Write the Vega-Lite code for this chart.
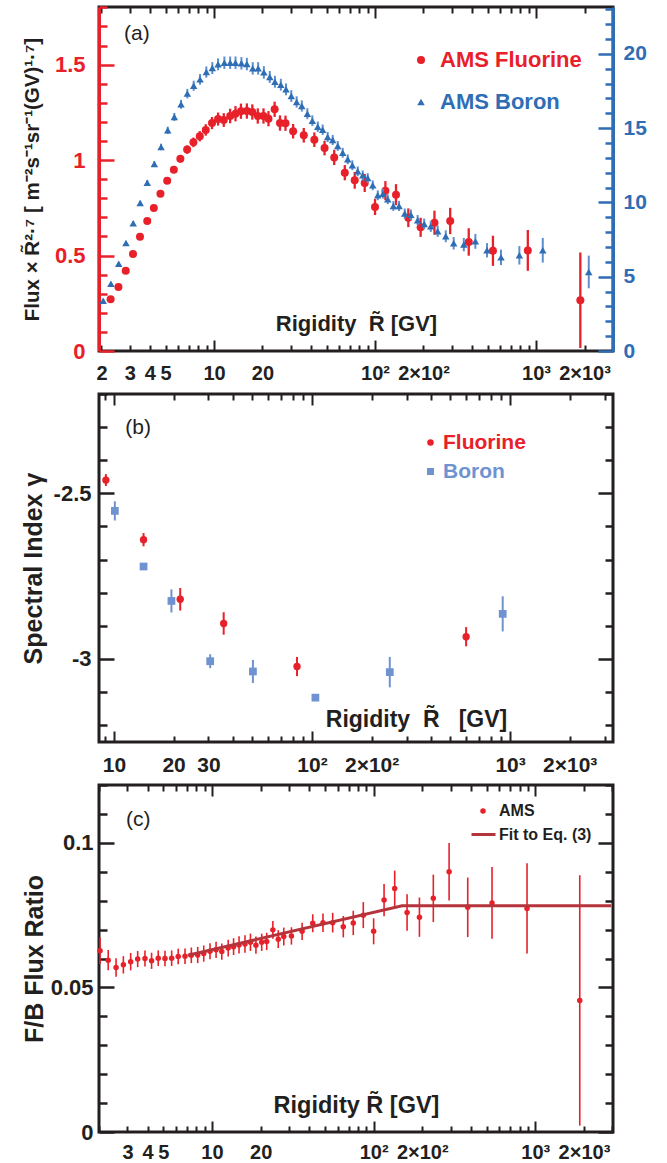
{
  "$schema": "https://vega.github.io/schema/vega-lite/v6.json",
  "padding": {"left": 19, "top": 4, "right": 5, "bottom": 0},
  "spacing": 43,
  "bounds": "flush",
  "config": {
    "font": "Liberation Sans",
    "view": {"stroke": "#231f20", "strokeWidth": 3},
    "axis": {"labelFont": "Liberation Sans", "labelFontWeight": "bold", "titleFont": "Liberation Sans", "titleFontWeight": "bold", "grid": false, "domain": false, "labelColor": "#231f20", "titleColor": "#231f20", "labelFlush": false, "labelOverlap": false},
    "legend": {"labelFont": "Liberation Sans", "labelFontWeight": "bold", "padding": 0, "labelLimit": 400}
  },
  "datasets": {
    "fluorineFlux": [
      {"series":"AMS Fluorine","R":2.28,"v":0.271,"lo":0.263,"hi":0.279},
      {"series":"AMS Fluorine","R":2.55,"v":0.335,"lo":0.327,"hi":0.343},
      {"series":"AMS Fluorine","R":2.83,"v":0.421,"lo":0.413,"hi":0.429},
      {"series":"AMS Fluorine","R":3.14,"v":0.508,"lo":0.499,"hi":0.517},
      {"series":"AMS Fluorine","R":3.47,"v":0.599,"lo":0.589,"hi":0.609},
      {"series":"AMS Fluorine","R":3.85,"v":0.681,"lo":0.670,"hi":0.692},
      {"series":"AMS Fluorine","R":4.23,"v":0.749,"lo":0.737,"hi":0.761},
      {"series":"AMS Fluorine","R":4.65,"v":0.824,"lo":0.811,"hi":0.837},
      {"series":"AMS Fluorine","R":5.12,"v":0.892,"lo":0.877,"hi":0.907},
      {"series":"AMS Fluorine","R":5.63,"v":0.950,"lo":0.933,"hi":0.967},
      {"series":"AMS Fluorine","R":6.18,"v":1.007,"lo":0.987,"hi":1.027},
      {"series":"AMS Fluorine","R":6.81,"v":1.055,"lo":1.033,"hi":1.077},
      {"series":"AMS Fluorine","R":7.45,"v":1.093,"lo":1.068,"hi":1.118},
      {"series":"AMS Fluorine","R":8.16,"v":1.125,"lo":1.098,"hi":1.152},
      {"series":"AMS Fluorine","R":8.89,"v":1.158,"lo":1.128,"hi":1.188},
      {"series":"AMS Fluorine","R":9.72,"v":1.194,"lo":1.162,"hi":1.226},
      {"series":"AMS Fluorine","R":10.6,"v":1.215,"lo":1.181,"hi":1.249},
      {"series":"AMS Fluorine","R":11.5,"v":1.210,"lo":1.174,"hi":1.246},
      {"series":"AMS Fluorine","R":12.6,"v":1.231,"lo":1.193,"hi":1.269},
      {"series":"AMS Fluorine","R":13.6,"v":1.243,"lo":1.203,"hi":1.283},
      {"series":"AMS Fluorine","R":14.7,"v":1.256,"lo":1.216,"hi":1.296},
      {"series":"AMS Fluorine","R":16.0,"v":1.257,"lo":1.217,"hi":1.297},
      {"series":"AMS Fluorine","R":17.3,"v":1.252,"lo":1.212,"hi":1.292},
      {"series":"AMS Fluorine","R":18.7,"v":1.231,"lo":1.191,"hi":1.271},
      {"series":"AMS Fluorine","R":20.3,"v":1.231,"lo":1.191,"hi":1.271},
      {"series":"AMS Fluorine","R":21.8,"v":1.217,"lo":1.177,"hi":1.257},
      {"series":"AMS Fluorine","R":23.8,"v":1.266,"lo":1.226,"hi":1.306},
      {"series":"AMS Fluorine","R":25.7,"v":1.194,"lo":1.154,"hi":1.234},
      {"series":"AMS Fluorine","R":27.8,"v":1.193,"lo":1.153,"hi":1.233},
      {"series":"AMS Fluorine","R":31.0,"v":1.151,"lo":1.113,"hi":1.189},
      {"series":"AMS Fluorine","R":36.1,"v":1.130,"lo":1.092,"hi":1.168},
      {"series":"AMS Fluorine","R":42.0,"v":1.107,"lo":1.069,"hi":1.145},
      {"series":"AMS Fluorine","R":48.6,"v":1.063,"lo":1.025,"hi":1.101},
      {"series":"AMS Fluorine","R":55.8,"v":1.014,"lo":0.974,"hi":1.054},
      {"series":"AMS Fluorine","R":64.9,"v":0.934,"lo":0.894,"hi":0.974},
      {"series":"AMS Fluorine","R":74.8,"v":0.894,"lo":0.850,"hi":0.938},
      {"series":"AMS Fluorine","R":86.3,"v":0.880,"lo":0.833,"hi":0.927},
      {"series":"AMS Fluorine","R":100,"v":0.754,"lo":0.712,"hi":0.796},
      {"series":"AMS Fluorine","R":116,"v":0.840,"lo":0.790,"hi":0.890},
      {"series":"AMS Fluorine","R":135,"v":0.819,"lo":0.764,"hi":0.874},
      {"series":"AMS Fluorine","R":161,"v":0.698,"lo":0.649,"hi":0.747},
      {"series":"AMS Fluorine","R":192,"v":0.648,"lo":0.598,"hi":0.698},
      {"series":"AMS Fluorine","R":234,"v":0.672,"lo":0.609,"hi":0.735},
      {"series":"AMS Fluorine","R":293,"v":0.681,"lo":0.612,"hi":0.750},
      {"series":"AMS Fluorine","R":382,"v":0.571,"lo":0.499,"hi":0.643},
      {"series":"AMS Fluorine","R":540,"v":0.525,"lo":0.446,"hi":0.604},
      {"series":"AMS Fluorine","R":889,"v":0.527,"lo":0.420,"hi":0.634},
      {"series":"AMS Fluorine","R":1884,"v":0.266,"lo":0.016,"hi":0.516}
    ],
    "boronFlux": [
      {"series":"AMS Boron","R":2.05,"v":3.38,"lo":3.28,"hi":3.48},
      {"series":"AMS Boron","R":2.29,"v":4.53,"lo":4.43,"hi":4.63},
      {"series":"AMS Boron","R":2.56,"v":5.87,"lo":5.75,"hi":5.99},
      {"series":"AMS Boron","R":2.84,"v":7.27,"lo":7.15,"hi":7.39},
      {"series":"AMS Boron","R":3.15,"v":8.59,"lo":8.45,"hi":8.73},
      {"series":"AMS Boron","R":3.48,"v":9.96,"lo":9.81,"hi":10.11},
      {"series":"AMS Boron","R":3.85,"v":11.33,"lo":11.16,"hi":11.50},
      {"series":"AMS Boron","R":4.26,"v":12.58,"lo":12.38,"hi":12.78},
      {"series":"AMS Boron","R":4.69,"v":13.73,"lo":13.51,"hi":13.95},
      {"series":"AMS Boron","R":5.16,"v":14.85,"lo":14.60,"hi":15.10},
      {"series":"AMS Boron","R":5.67,"v":15.75,"lo":15.48,"hi":16.02},
      {"series":"AMS Boron","R":6.24,"v":16.60,"lo":16.30,"hi":16.90},
      {"series":"AMS Boron","R":6.83,"v":17.32,"lo":17.00,"hi":17.64},
      {"series":"AMS Boron","R":7.48,"v":17.85,"lo":17.51,"hi":18.19},
      {"series":"AMS Boron","R":8.19,"v":18.28,"lo":17.92,"hi":18.64},
      {"series":"AMS Boron","R":8.96,"v":18.77,"lo":18.39,"hi":19.15},
      {"series":"AMS Boron","R":9.76,"v":19.04,"lo":18.64,"hi":19.44},
      {"series":"AMS Boron","R":10.6,"v":19.29,"lo":18.89,"hi":19.69},
      {"series":"AMS Boron","R":11.6,"v":19.40,"lo":18.98,"hi":19.82},
      {"series":"AMS Boron","R":12.6,"v":19.40,"lo":18.98,"hi":19.82},
      {"series":"AMS Boron","R":13.6,"v":19.40,"lo":18.98,"hi":19.82},
      {"series":"AMS Boron","R":14.8,"v":19.36,"lo":18.94,"hi":19.78},
      {"series":"AMS Boron","R":16.0,"v":19.31,"lo":18.89,"hi":19.73},
      {"series":"AMS Boron","R":17.4,"v":19.02,"lo":18.60,"hi":19.44},
      {"series":"AMS Boron","R":18.8,"v":19.02,"lo":18.60,"hi":19.44},
      {"series":"AMS Boron","R":20.4,"v":18.75,"lo":18.33,"hi":19.17},
      {"series":"AMS Boron","R":22.2,"v":18.44,"lo":18.04,"hi":18.84},
      {"series":"AMS Boron","R":23.9,"v":18.12,"lo":17.72,"hi":18.52},
      {"series":"AMS Boron","R":26.0,"v":17.92,"lo":17.52,"hi":18.32},
      {"series":"AMS Boron","R":28.0,"v":17.61,"lo":17.21,"hi":18.01},
      {"series":"AMS Boron","R":30.2,"v":17.16,"lo":16.76,"hi":17.56},
      {"series":"AMS Boron","R":32.6,"v":16.76,"lo":16.38,"hi":17.14},
      {"series":"AMS Boron","R":35.1,"v":16.49,"lo":16.11,"hi":16.87},
      {"series":"AMS Boron","R":38.0,"v":15.97,"lo":15.60,"hi":16.34},
      {"series":"AMS Boron","R":40.8,"v":15.50,"lo":15.14,"hi":15.86},
      {"series":"AMS Boron","R":44.1,"v":15.09,"lo":14.74,"hi":15.44},
      {"series":"AMS Boron","R":47.3,"v":14.89,"lo":14.54,"hi":15.24},
      {"series":"AMS Boron","R":50.8,"v":14.40,"lo":14.06,"hi":14.74},
      {"series":"AMS Boron","R":54.6,"v":14.20,"lo":13.86,"hi":14.54},
      {"series":"AMS Boron","R":58.7,"v":13.80,"lo":13.47,"hi":14.13},
      {"series":"AMS Boron","R":63.0,"v":13.34,"lo":13.01,"hi":13.67},
      {"series":"AMS Boron","R":67.7,"v":12.90,"lo":12.57,"hi":13.23},
      {"series":"AMS Boron","R":72.3,"v":12.50,"lo":12.17,"hi":12.83},
      {"series":"AMS Boron","R":78.1,"v":12.09,"lo":11.76,"hi":12.42},
      {"series":"AMS Boron","R":83.9,"v":11.82,"lo":11.49,"hi":12.15},
      {"series":"AMS Boron","R":90.1,"v":11.64,"lo":11.31,"hi":11.97},
      {"series":"AMS Boron","R":96.8,"v":11.15,"lo":10.82,"hi":11.48},
      {"series":"AMS Boron","R":104,"v":10.48,"lo":10.15,"hi":10.81},
      {"series":"AMS Boron","R":112,"v":10.59,"lo":10.26,"hi":10.92},
      {"series":"AMS Boron","R":120,"v":10.21,"lo":9.88,"hi":10.54},
      {"series":"AMS Boron","R":130,"v":9.76,"lo":9.43,"hi":10.09},
      {"series":"AMS Boron","R":141,"v":9.76,"lo":9.42,"hi":10.10},
      {"series":"AMS Boron","R":153,"v":9.25,"lo":8.91,"hi":9.59},
      {"series":"AMS Boron","R":167,"v":9.17,"lo":8.82,"hi":9.52},
      {"series":"AMS Boron","R":184,"v":8.80,"lo":8.45,"hi":9.15},
      {"series":"AMS Boron","R":202,"v":8.55,"lo":8.19,"hi":8.91},
      {"series":"AMS Boron","R":222,"v":8.39,"lo":8.02,"hi":8.76},
      {"series":"AMS Boron","R":245,"v":8.06,"lo":7.68,"hi":8.44},
      {"series":"AMS Boron","R":275,"v":7.72,"lo":7.32,"hi":8.12},
      {"series":"AMS Boron","R":308,"v":7.25,"lo":6.83,"hi":7.67},
      {"series":"AMS Boron","R":356,"v":7.16,"lo":6.71,"hi":7.61},
      {"series":"AMS Boron","R":420,"v":7.38,"lo":6.88,"hi":7.88},
      {"series":"AMS Boron","R":496,"v":6.78,"lo":6.30,"hi":7.26},
      {"series":"AMS Boron","R":606,"v":6.30,"lo":5.78,"hi":6.82},
      {"series":"AMS Boron","R":788,"v":6.44,"lo":5.82,"hi":7.06},
      {"series":"AMS Boron","R":1101,"v":6.78,"lo":5.95,"hi":7.61},
      {"series":"AMS Boron","R":2125,"v":5.32,"lo":4.22,"hi":6.42}
    ],
    "indexF": [
      {"series":"Fluorine","R":9.1,"v":-2.46,"lo":-2.478,"hi":-2.442},
      {"series":"Fluorine","R":14.1,"v":-2.64,"lo":-2.66,"hi":-2.62},
      {"series":"Fluorine","R":21.6,"v":-2.82,"lo":-2.854,"hi":-2.786},
      {"series":"Fluorine","R":35.8,"v":-2.893,"lo":-2.927,"hi":-2.859},
      {"series":"Fluorine","R":84,"v":-3.023,"lo":-3.052,"hi":-2.994},
      {"series":"Fluorine","R":600,"v":-2.933,"lo":-2.962,"hi":-2.904}
    ],
    "indexB": [
      {"series":"Boron","R":10.1,"v":-2.553,"lo":-2.582,"hi":-2.524},
      {"series":"Boron","R":14.1,"v":-2.721,"lo":-2.729,"hi":-2.713},
      {"series":"Boron","R":19.5,"v":-2.825,"lo":-2.86,"hi":-2.79},
      {"series":"Boron","R":30.6,"v":-3.007,"lo":-3.028,"hi":-2.986},
      {"series":"Boron","R":50.3,"v":-3.038,"lo":-3.073,"hi":-3.003},
      {"series":"Boron","R":104,"v":-3.117,"lo":-3.125,"hi":-3.109},
      {"series":"Boron","R":247,"v":-3.04,"lo":-3.086,"hi":-2.994},
      {"series":"Boron","R":918,"v":-2.864,"lo":-2.917,"hi":-2.811}
    ],
    "ratio": [
      {"series":"AMS","R":2.03,"v":0.0627,"lo":0.0581,"hi":0.0673},
      {"series":"AMS","R":2.28,"v":0.0594,"lo":0.0559,"hi":0.0629},
      {"series":"AMS","R":2.55,"v":0.0569,"lo":0.0537,"hi":0.0601},
      {"series":"AMS","R":2.83,"v":0.0578,"lo":0.0548,"hi":0.0608},
      {"series":"AMS","R":3.14,"v":0.0589,"lo":0.0559,"hi":0.0619},
      {"series":"AMS","R":3.47,"v":0.0598,"lo":0.0570,"hi":0.0626},
      {"series":"AMS","R":3.85,"v":0.0600,"lo":0.0572,"hi":0.0628},
      {"series":"AMS","R":4.23,"v":0.0592,"lo":0.0564,"hi":0.0620},
      {"series":"AMS","R":4.65,"v":0.0601,"lo":0.0574,"hi":0.0628},
      {"series":"AMS","R":5.12,"v":0.0600,"lo":0.0573,"hi":0.0627},
      {"series":"AMS","R":5.63,"v":0.0601,"lo":0.0574,"hi":0.0628},
      {"series":"AMS","R":6.18,"v":0.0607,"lo":0.0580,"hi":0.0634},
      {"series":"AMS","R":6.81,"v":0.0608,"lo":0.0581,"hi":0.0635},
      {"series":"AMS","R":7.45,"v":0.0611,"lo":0.0584,"hi":0.0638},
      {"series":"AMS","R":8.16,"v":0.0612,"lo":0.0584,"hi":0.0640},
      {"series":"AMS","R":8.89,"v":0.0617,"lo":0.0589,"hi":0.0645},
      {"series":"AMS","R":9.72,"v":0.0625,"lo":0.0597,"hi":0.0653},
      {"series":"AMS","R":10.6,"v":0.0630,"lo":0.0602,"hi":0.0658},
      {"series":"AMS","R":11.5,"v":0.0624,"lo":0.0596,"hi":0.0652},
      {"series":"AMS","R":12.6,"v":0.0636,"lo":0.0607,"hi":0.0665},
      {"series":"AMS","R":13.6,"v":0.0641,"lo":0.0612,"hi":0.0670},
      {"series":"AMS","R":14.7,"v":0.0647,"lo":0.0617,"hi":0.0677},
      {"series":"AMS","R":16.0,"v":0.0650,"lo":0.0620,"hi":0.0680},
      {"series":"AMS","R":17.3,"v":0.0656,"lo":0.0626,"hi":0.0686},
      {"series":"AMS","R":18.7,"v":0.0646,"lo":0.0616,"hi":0.0676},
      {"series":"AMS","R":20.3,"v":0.0656,"lo":0.0626,"hi":0.0686},
      {"series":"AMS","R":21.8,"v":0.0659,"lo":0.0629,"hi":0.0689},
      {"series":"AMS","R":23.8,"v":0.0699,"lo":0.0668,"hi":0.0730},
      {"series":"AMS","R":25.7,"v":0.0667,"lo":0.0636,"hi":0.0698},
      {"series":"AMS","R":27.8,"v":0.0676,"lo":0.0645,"hi":0.0707},
      {"series":"AMS","R":31.0,"v":0.0678,"lo":0.0648,"hi":0.0708},
      {"series":"AMS","R":36.1,"v":0.0694,"lo":0.0664,"hi":0.0724},
      {"series":"AMS","R":42.0,"v":0.0722,"lo":0.0691,"hi":0.0753},
      {"series":"AMS","R":48.6,"v":0.0724,"lo":0.0692,"hi":0.0756},
      {"series":"AMS","R":55.8,"v":0.0724,"lo":0.0690,"hi":0.0758},
      {"series":"AMS","R":64.9,"v":0.0710,"lo":0.0673,"hi":0.0747},
      {"series":"AMS","R":74.8,"v":0.0723,"lo":0.0681,"hi":0.0765},
      {"series":"AMS","R":86.3,"v":0.0750,"lo":0.0705,"hi":0.0795},
      {"series":"AMS","R":100,"v":0.0694,"lo":0.0649,"hi":0.0739},
      {"series":"AMS","R":116,"v":0.0802,"lo":0.0746,"hi":0.0858},
      {"series":"AMS","R":135,"v":0.0842,"lo":0.0780,"hi":0.0904},
      {"series":"AMS","R":161,"v":0.0759,"lo":0.0696,"hi":0.0822},
      {"series":"AMS","R":192,"v":0.0743,"lo":0.0675,"hi":0.0811},
      {"series":"AMS","R":234,"v":0.0808,"lo":0.0726,"hi":0.0890},
      {"series":"AMS","R":293,"v":0.0900,"lo":0.0801,"hi":0.0999},
      {"series":"AMS","R":382,"v":0.0777,"lo":0.0674,"hi":0.0880},
      {"series":"AMS","R":540,"v":0.0792,"lo":0.0668,"hi":0.0916},
      {"series":"AMS","R":889,"v":0.0773,"lo":0.0617,"hi":0.0929},
      {"series":"AMS","R":1884,"v":0.0455,"lo":0.0022,"hi":0.0888}
    ],
    "fit": [
      {"series":"Fit to Eq. (3)","R":7.1,"v":0.0611},
      {"series":"Fit to Eq. (3)","R":150,"v":0.0782},
      {"series":"Fit to Eq. (3)","R":2950,"v":0.0782}
    ]
  },
  "vconcat": [
    {
      "width": 514,
      "height": 344,
      "resolve": {"scale": {"y": "independent", "color": "independent", "shape": "independent"}, "axis": {"x": "independent", "y": "independent"}},
      "layer": [
        {
          "data": {"name": "fluorineFlux"},
          "mark": {"type": "rule", "color": "#e8202a", "strokeWidth": 2.3},
          "encoding": {
            "x": {"field": "R", "type": "quantitative", "scale": {"type": "log", "domain": [1.931, 3006], "nice": false},
              "axis": {"orient": "bottom", "values": [2,3,4,5,6,7,8,9,10,20,30,40,50,60,70,80,90,100,200,300,400,500,600,700,800,900,1000,2000,3000], "labels": false, "title": null, "tickColor": "#231f20", "tickWidth": 2, "tickSize": {"condition": {"test": "datum.value==10||datum.value==100||datum.value==1000", "value": -11}, "value": -6}}},
            "y": {"field": "lo", "type": "quantitative", "scale": {"domain": [0, 1.802], "nice": false, "zero": false},
              "axis": {"orient": "left", "values": [0,0.1,0.2,0.3,0.4,0.5,0.6,0.7,0.8,0.9,1,1.1,1.2,1.3,1.4,1.5,1.6,1.7,1.8], "labels": false, "title": null, "tickColor": "#e8202a", "tickWidth": 2.5, "domain": true, "domainColor": "#e8202a", "domainWidth": 3, "tickSize": {"condition": {"test": "abs(datum.value*2-round(datum.value*2))<0.001", "value": -15}, "value": -8}}},
            "y2": {"field": "hi"}
          }
        },
        {
          "data": {"name": "fluorineFlux"},
          "mark": {"type": "point", "filled": true, "shape": "circle", "size": 64, "opacity": 1},
          "encoding": {
            "x": {"field": "R", "type": "quantitative", "scale": {"type": "log", "domain": [1.931, 3006], "nice": false},
              "axis": {"orient": "bottom", "values": [2,3,4,5,10,20,100,200,1000,2000], "ticks": false, "labelFontSize": 20, "labelPadding": 12, "labelExpr": "datum.value==100?'10²':datum.value==200?'2×10²':datum.value==1000?'10³':datum.value==2000?'2×10³':format(datum.value,'d')", "title": "Rigidity\u00a0\u00a0R̃ [GV]", "titleX": 257, "titleY": -28, "titleAngle": 0, "titleAlign": "center", "titleBaseline": "middle", "titleFontSize": 22}},
            "y": {"field": "v", "type": "quantitative", "scale": {"domain": [0, 1.802], "nice": false, "zero": false},
              "axis": {"orient": "left", "values": [0,0.5,1,1.5], "ticks": false, "labelExpr": "format(datum.value,'~g')", "labelFontSize": 22, "labelColor": "#e8202a", "labelPadding": 14, "title": "Flux × R̃²·⁷ [ m⁻²s⁻¹sr⁻¹(GV)¹·⁷]", "titleX": -67, "titleBaseline": "middle", "titleFontSize": 20.5}},
            "color": {"field": "series", "type": "nominal", "scale": {"domain": ["AMS Fluorine"], "range": ["#e8202a"]},
              "legend": {"orient": "none", "legendX": 311, "legendY": 42, "title": null, "labelColor": "#e8202a", "labelFontSize": 22, "symbolSize": 64, "labelOffset": 8}}
          }
        },
        {
          "data": {"name": "boronFlux"},
          "mark": {"type": "rule", "color": "#5b8fd0", "strokeWidth": 2},
          "encoding": {
            "x": {"field": "R", "type": "quantitative", "scale": {"type": "log", "domain": [1.931, 3006], "nice": false},
              "axis": {"orient": "top", "values": [2,3,4,5,6,7,8,9,10,20,30,40,50,60,70,80,90,100,200,300,400,500,600,700,800,900,1000,2000,3000], "labels": false, "title": null, "tickColor": "#231f20", "tickWidth": 2, "tickSize": {"condition": {"test": "datum.value==10||datum.value==100||datum.value==1000", "value": -11}, "value": -6}}},
            "y": {"field": "lo", "type": "quantitative", "scale": {"domain": [0, 23.15], "nice": false, "zero": false},
              "axis": {"orient": "right", "values": [0,1,2,3,4,5,6,7,8,9,10,11,12,13,14,15,16,17,18,19,20,21,22,23], "labels": false, "title": null, "tickColor": "#2f6db5", "tickWidth": 2.5, "domain": true, "domainColor": "#2f6db5", "domainWidth": 3, "tickSize": {"condition": {"test": "datum.value%5==0", "value": -15}, "value": -8}}},
            "y2": {"field": "hi"}
          }
        },
        {
          "data": {"name": "boronFlux"},
          "mark": {"type": "point", "filled": true, "size": 56, "opacity": 1},
          "encoding": {
            "x": {"field": "R", "type": "quantitative", "scale": {"type": "log", "domain": [1.931, 3006], "nice": false}, "axis": null},
            "y": {"field": "v", "type": "quantitative", "scale": {"domain": [0, 23.15], "nice": false, "zero": false},
              "axis": {"orient": "right", "values": [0,5,10,15,20], "ticks": false, "format": "d", "labelFontSize": 21, "labelColor": "#2f6db5", "labelPadding": 10, "title": null}},
            "color": {"field": "series", "type": "nominal", "scale": {"domain": ["AMS Boron"], "range": ["#2f6db5"]},
              "legend": {"orient": "none", "legendX": 311, "legendY": 84, "title": null, "labelColor": "#2f6db5", "labelFontSize": 22, "symbolSize": 56, "labelOffset": 8}},
            "shape": {"field": "series", "type": "nominal", "scale": {"domain": ["AMS Boron"], "range": ["triangle-up"]},
              "legend": {"orient": "none", "legendX": 311, "legendY": 84, "title": null, "labelColor": "#2f6db5", "labelFontSize": 22, "symbolSize": 56, "labelOffset": 8}}
          }
        },
        {
          "data": {"values": [{}]},
          "mark": {"type": "text", "text": "(a)", "align": "left", "baseline": "middle", "fontSize": 21, "color": "#231f20"},
          "encoding": {
            "x": {"datum": 2.76, "type": "quantitative", "scale": {"type": "log", "domain": [1.931, 3006], "nice": false}, "axis": null},
            "y": {"datum": 1.66, "type": "quantitative", "scale": {"domain": [0, 1.802], "nice": false, "zero": false}, "axis": null}
          }
        }
      ]
    },
    {
      "width": 514,
      "height": 348,
      "resolve": {"scale": {"color": "independent", "shape": "independent"}, "axis": {"x": "independent", "y": "independent"}},
      "layer": [
        {
          "data": {"name": "indexF"},
          "mark": {"type": "rule", "color": "#e8202a", "strokeWidth": 2},
          "encoding": {
            "x": {"field": "R", "type": "quantitative", "scale": {"type": "log", "domain": [8.4, 3310], "nice": false},
              "axis": {"orient": "bottom", "values": [9,10,20,30,40,50,60,70,80,90,100,200,300,400,500,600,700,800,900,1000,2000,3000], "labels": false, "title": null, "tickColor": "#231f20", "tickWidth": 2, "tickSize": {"condition": {"test": "datum.value==10||datum.value==100||datum.value==1000", "value": -11}, "value": -6}}},
            "y": {"field": "lo", "type": "quantitative", "scale": {"domain": [-3.251, -2.2], "nice": false, "zero": false},
              "axis": {"orient": "left", "values": [-3.2,-3.1,-3,-2.9,-2.8,-2.7,-2.6,-2.5,-2.4,-2.3,-2.2], "labels": false, "title": null, "tickColor": "#231f20", "tickWidth": 2.5, "tickSize": {"condition": {"test": "abs(datum.value*2-round(datum.value*2))<0.001", "value": -15}, "value": -8}}},
            "y2": {"field": "hi"}
          }
        },
        {
          "data": {"name": "indexF"},
          "mark": {"type": "point", "filled": true, "shape": "circle", "size": 54, "opacity": 1},
          "encoding": {
            "x": {"field": "R", "type": "quantitative", "scale": {"type": "log", "domain": [8.4, 3310], "nice": false},
              "axis": {"orient": "bottom", "values": [10,20,30,100,200,1000,2000], "ticks": false, "labelFontSize": 21, "labelPadding": 12, "labelExpr": "datum.value==100?'10²':datum.value==200?'2×10²':datum.value==1000?'10³':datum.value==2000?'2×10³':format(datum.value,'d')", "title": "Rigidity\u00a0\u00a0R̃\u00a0\u00a0\u00a0[GV]", "titleX": 317, "titleY": -23, "titleAngle": 0, "titleAlign": "center", "titleBaseline": "middle", "titleFontSize": 23}},
            "y": {"field": "v", "type": "quantitative", "scale": {"domain": [-3.251, -2.2], "nice": false, "zero": false},
              "axis": {"orient": "left", "values": [-3, -2.5], "ticks": false, "labelExpr": "datum.value==-3?'-3':'-2.5'", "labelFontSize": 22, "labelPadding": 8, "title": "Spectral Index γ", "titleX": -66, "titleBaseline": "middle", "titleFontSize": 25}},
            "color": {"field": "series", "type": "nominal", "scale": {"domain": ["Fluorine"], "range": ["#e8202a"]},
              "legend": {"orient": "none", "legendX": 321, "legendY": 38, "title": null, "labelColor": "#e8202a", "labelFontSize": 21, "symbolSize": 42, "labelOffset": 2}}
          }
        },
        {
          "data": {"name": "indexB"},
          "mark": {"type": "rule", "color": "#6f93d0", "strokeWidth": 2},
          "encoding": {
            "x": {"field": "R", "type": "quantitative", "scale": {"type": "log", "domain": [8.4, 3310], "nice": false},
              "axis": {"orient": "top", "values": [9,10,20,30,40,50,60,70,80,90,100,200,300,400,500,600,700,800,900,1000,2000,3000], "labels": false, "title": null, "tickColor": "#231f20", "tickWidth": 2, "tickSize": {"condition": {"test": "datum.value==10||datum.value==100||datum.value==1000", "value": -11}, "value": -6}}},
            "y": {"field": "lo", "type": "quantitative", "scale": {"domain": [-3.251, -2.2], "nice": false, "zero": false},
              "axis": {"orient": "right", "values": [-3.2,-3.1,-3,-2.9,-2.8,-2.7,-2.6,-2.5,-2.4,-2.3,-2.2], "labels": false, "title": null, "tickColor": "#231f20", "tickWidth": 2.5, "tickSize": {"condition": {"test": "abs(datum.value*2-round(datum.value*2))<0.001", "value": -15}, "value": -8}}},
            "y2": {"field": "hi"}
          }
        },
        {
          "data": {"name": "indexB"},
          "mark": {"type": "point", "filled": true, "size": 60, "opacity": 1},
          "encoding": {
            "x": {"field": "R", "type": "quantitative", "scale": {"type": "log", "domain": [8.4, 3310], "nice": false}, "axis": null},
            "y": {"field": "v", "type": "quantitative", "scale": {"domain": [-3.251, -2.2], "nice": false, "zero": false}, "axis": null},
            "color": {"field": "series", "type": "nominal", "scale": {"domain": ["Boron"], "range": ["#6f93d0"]},
              "legend": {"orient": "none", "legendX": 321, "legendY": 67, "title": null, "labelColor": "#6f93d0", "labelFontSize": 21, "symbolSize": 49, "labelOffset": 2}},
            "shape": {"field": "series", "type": "nominal", "scale": {"domain": ["Boron"], "range": ["square"]},
              "legend": {"orient": "none", "legendX": 321, "legendY": 67, "title": null, "labelColor": "#6f93d0", "labelFontSize": 21, "symbolSize": 49, "labelOffset": 2}}
          }
        },
        {
          "data": {"values": [{}]},
          "mark": {"type": "text", "text": "(b)", "align": "left", "baseline": "middle", "fontSize": 21, "color": "#231f20"},
          "encoding": {
            "x": {"datum": 11.4, "type": "quantitative", "scale": {"type": "log", "domain": [8.4, 3310], "nice": false}, "axis": null},
            "y": {"datum": -2.304, "type": "quantitative", "scale": {"domain": [-3.251, -2.2], "nice": false, "zero": false}, "axis": null}
          }
        }
      ]
    },
    {
      "width": 514,
      "height": 347,
      "resolve": {"scale": {"color": "independent"}, "axis": {"x": "independent", "y": "independent"}},
      "layer": [
        {
          "data": {"name": "ratio"},
          "mark": {"type": "rule", "color": "#e8202a", "strokeWidth": 1.6},
          "encoding": {
            "x": {"field": "R", "type": "quantitative", "scale": {"type": "log", "domain": [2.0, 3025], "nice": false},
              "axis": {"orient": "bottom", "values": [2,3,4,5,6,7,8,9,10,20,30,40,50,60,70,80,90,100,200,300,400,500,600,700,800,900,1000,2000,3000], "labels": false, "title": null, "tickColor": "#231f20", "tickWidth": 2, "tickSize": {"condition": {"test": "datum.value==10||datum.value==100||datum.value==1000", "value": -11}, "value": -6}}},
            "y": {"field": "lo", "type": "quantitative", "scale": {"domain": [0, 0.12], "nice": false, "zero": false},
              "axis": {"orient": "left", "values": [0,0.01,0.02,0.03,0.04,0.05,0.06,0.07,0.08,0.09,0.1,0.11,0.12], "labels": false, "title": null, "tickColor": "#231f20", "tickWidth": 2.5, "tickSize": {"condition": {"test": "abs(datum.value*20-round(datum.value*20))<0.001", "value": -15}, "value": -8}}},
            "y2": {"field": "hi"}
          }
        },
        {
          "data": {"name": "ratio"},
          "mark": {"type": "point", "filled": true, "shape": "circle", "size": 30, "opacity": 1},
          "encoding": {
            "x": {"field": "R", "type": "quantitative", "scale": {"type": "log", "domain": [2.0, 3025], "nice": false},
              "axis": {"orient": "bottom", "values": [3,4,5,10,20,100,200,1000,2000], "ticks": false, "labelFontSize": 20, "labelPadding": 10, "labelExpr": "datum.value==100?'10²':datum.value==200?'2×10²':datum.value==1000?'10³':datum.value==2000?'2×10³':format(datum.value,'d')", "title": "Rigidity R̃ [GV]", "titleX": 257, "titleY": -27, "titleAngle": 0, "titleAlign": "center", "titleBaseline": "middle", "titleFontSize": 23.5}},
            "y": {"field": "v", "type": "quantitative", "scale": {"domain": [0, 0.12], "nice": false, "zero": false},
              "axis": {"orient": "left", "values": [0, 0.05, 0.1], "ticks": false, "labelExpr": "format(datum.value,'~g')", "labelFontSize": 22, "labelPadding": 6, "title": "F/B Flux Ratio", "titleX": -65, "titleBaseline": "middle", "titleFontSize": 25}},
            "color": {"field": "series", "type": "nominal", "scale": {"domain": ["AMS"], "range": ["#e8202a"]},
              "legend": {"orient": "none", "legendX": 376, "legendY": 18, "title": null, "labelColor": "#231f20", "labelFontSize": 16, "symbolSize": 30, "labelOffset": 8}}
          }
        },
        {
          "data": {"name": "fit"},
          "mark": {"type": "line", "strokeWidth": 3},
          "encoding": {
            "x": {"field": "R", "type": "quantitative", "scale": {"type": "log", "domain": [2.0, 3025], "nice": false},
              "axis": {"orient": "top", "values": [2,3,4,5,6,7,8,9,10,20,30,40,50,60,70,80,90,100,200,300,400,500,600,700,800,900,1000,2000,3000], "labels": false, "title": null, "tickColor": "#231f20", "tickWidth": 2, "tickSize": {"condition": {"test": "datum.value==10||datum.value==100||datum.value==1000", "value": -11}, "value": -6}}},
            "y": {"field": "v", "type": "quantitative", "scale": {"domain": [0, 0.12], "nice": false, "zero": false},
              "axis": {"orient": "right", "values": [0,0.01,0.02,0.03,0.04,0.05,0.06,0.07,0.08,0.09,0.1,0.11,0.12], "labels": false, "title": null, "tickColor": "#231f20", "tickWidth": 2.5, "tickSize": {"condition": {"test": "abs(datum.value*20-round(datum.value*20))<0.001", "value": -15}, "value": -8}}},
            "color": {"field": "series", "type": "nominal", "scale": {"domain": ["Fit to Eq. (3)"], "range": ["#b5343b"]},
              "legend": {"orient": "none", "legendX": 371, "legendY": 36, "title": null, "labelColor": "#231f20", "labelFontSize": 16, "symbolType": "stroke", "symbolSize": 576, "symbolStrokeWidth": 3, "labelOffset": 2}}
          }
        },
        {
          "data": {"values": [{}]},
          "mark": {"type": "text", "text": "(c)", "align": "left", "baseline": "middle", "fontSize": 21, "color": "#231f20"},
          "encoding": {
            "x": {"datum": 2.94, "type": "quantitative", "scale": {"type": "log", "domain": [2.0, 3025], "nice": false}, "axis": null},
            "y": {"datum": 0.108, "type": "quantitative", "scale": {"domain": [0, 0.12], "nice": false, "zero": false}, "axis": null}
          }
        }
      ]
    }
  ]
}
